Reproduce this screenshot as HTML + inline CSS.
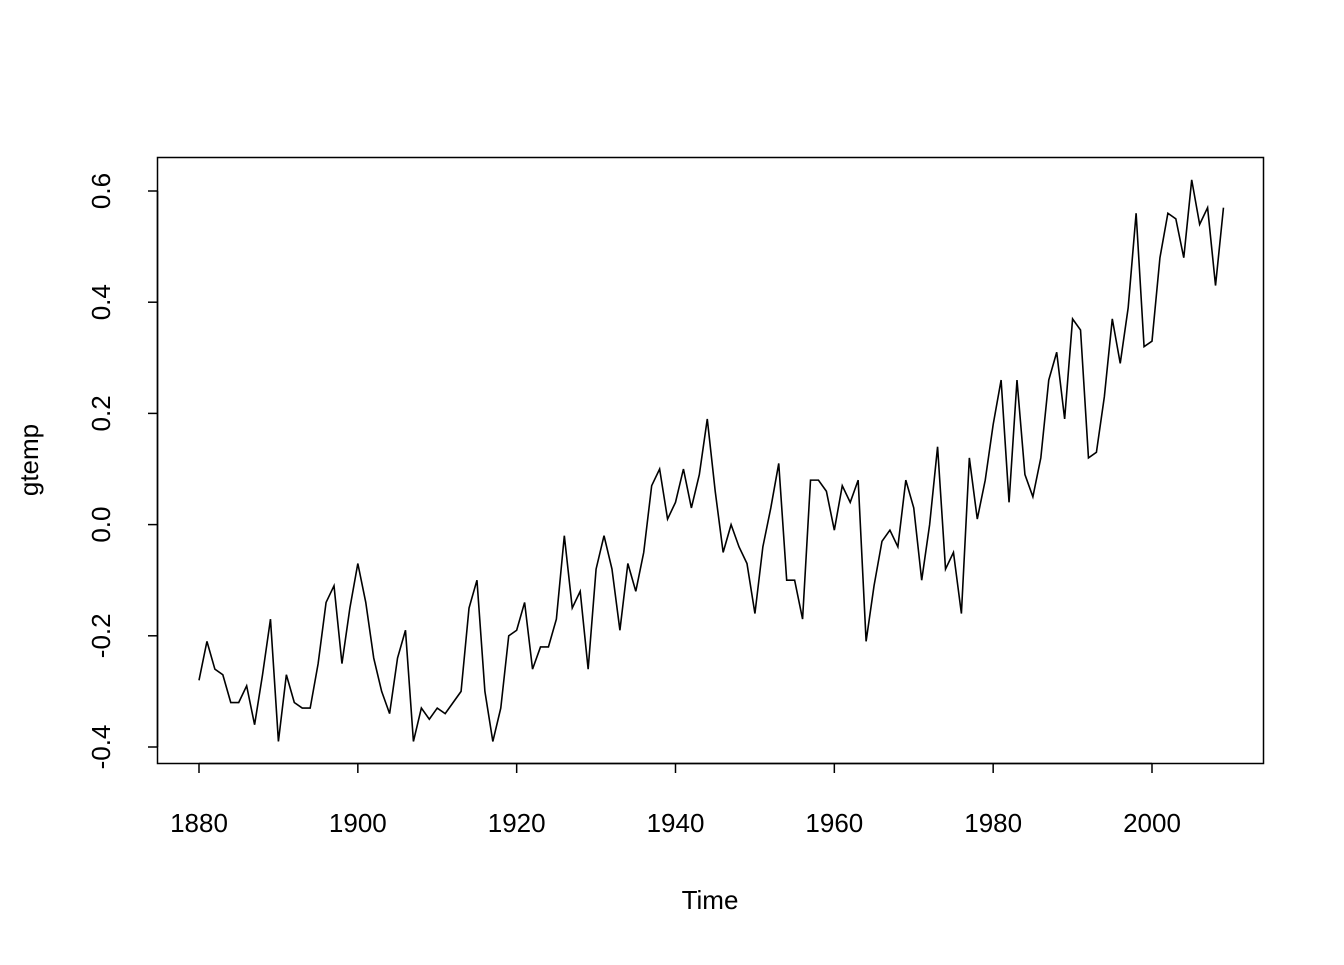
<!DOCTYPE html>
<html><head><meta charset="utf-8"><style>
html,body{margin:0;padding:0;background:#fff}
svg text{font-family:"Liberation Sans",Arial,sans-serif;font-size:26px;fill:#000}
</style></head><body>
<svg id="chart" width="1344" height="960" xmlns="http://www.w3.org/2000/svg">
<rect x="157.5" y="157.5" width="1106" height="606" fill="none" stroke="#000" stroke-width="1.5"/>
<g id="xaxis"></g>
<g id="yaxis"></g>
<path id="series" fill="none" stroke="#000" stroke-width="1.6"/>
<text x="710" y="909" text-anchor="middle">Time</text>
<text transform="translate(38,460) rotate(-90)" text-anchor="middle">gtemp</text>
</svg>
<script>
const startYear = 1880;
const values = [-0.28,-0.21,-0.26,-0.27,-0.32,-0.32,-0.29,-0.36,-0.27,-0.17,-0.39,-0.27,-0.32,-0.33,-0.33,-0.25,-0.14,-0.11,-0.25,-0.15,-0.07,-0.14,-0.24,-0.30,-0.34,-0.24,-0.19,-0.39,-0.33,-0.35,-0.33,-0.34,-0.32,-0.30,-0.15,-0.10,-0.30,-0.39,-0.33,-0.20,-0.19,-0.14,-0.26,-0.22,-0.22,-0.17,-0.02,-0.15,-0.12,-0.26,-0.08,-0.02,-0.08,-0.19,-0.07,-0.12,-0.05,0.07,0.10,0.01,0.04,0.10,0.03,0.09,0.19,0.06,-0.05,0.00,-0.04,-0.07,-0.16,-0.04,0.03,0.11,-0.10,-0.10,-0.17,0.08,0.08,0.06,-0.01,0.07,0.04,0.08,-0.21,-0.11,-0.03,-0.01,-0.04,0.08,0.03,-0.10,0.00,0.14,-0.08,-0.05,-0.16,0.12,0.01,0.08,0.18,0.26,0.04,0.26,0.09,0.05,0.12,0.26,0.31,0.19,0.37,0.35,0.12,0.13,0.23,0.37,0.29,0.39,0.56,0.32,0.33,0.48,0.56,0.55,0.48,0.62,0.54,0.57,0.43,0.57];
const xTicks = [1880,1900,1920,1940,1960,1980,2000];
const yTicks = [-0.4,-0.2,0.0,0.2,0.4,0.6];
const yTickLabels = ["-0.4","-0.2","0.0","0.2","0.4","0.6"];

const NS = "http://www.w3.org/2000/svg";
function xScale(yr){ return 199 + (yr-1880)*(1152-199)/120; }
function yScale(v){ return 747 - (v+0.4)*(747-191)/1.0; }

let d = "";
values.forEach((v,i)=>{ d += (i?"L":"M") + xScale(startYear+i).toFixed(2) + "," + yScale(v).toFixed(2); });
document.getElementById("series").setAttribute("d", d);

const xa = document.getElementById("xaxis");
const xl = document.createElementNS(NS,"line");
xl.setAttribute("x1",xScale(xTicks[0])); xl.setAttribute("x2",xScale(xTicks[xTicks.length-1]));
xl.setAttribute("y1",763.5); xl.setAttribute("y2",763.5); xl.setAttribute("stroke","#000"); xl.setAttribute("stroke-width","1.5");


xa.appendChild(xl);
xTicks.forEach(t=>{
  const l = document.createElementNS(NS,"line");
  l.setAttribute("x1",xScale(t)); l.setAttribute("x2",xScale(t)); l.setAttribute("y1",763.5); l.setAttribute("y2",773);
  l.setAttribute("stroke","#000"); l.setAttribute("stroke-width","1.5");
  
  
  xa.appendChild(l);
  const tx = document.createElementNS(NS,"text");
  tx.setAttribute("x",xScale(t)); tx.setAttribute("y",832); tx.setAttribute("text-anchor","middle");
  tx.textContent = String(t);
  
  
  xa.appendChild(tx);
});
const ya = document.getElementById("yaxis");
const yl = document.createElementNS(NS,"line");
yl.setAttribute("x1",157.5); yl.setAttribute("x2",157.5);
yl.setAttribute("y1",yScale(yTicks[0])); yl.setAttribute("y2",yScale(yTicks[yTicks.length-1]));
yl.setAttribute("stroke","#000"); yl.setAttribute("stroke-width","1.5");


ya.appendChild(yl);
yTicks.forEach((t,i)=>{
  const l = document.createElementNS(NS,"line");
  l.setAttribute("x1",148); l.setAttribute("x2",157.5); l.setAttribute("y1",yScale(t)); l.setAttribute("y2",yScale(t));
  l.setAttribute("stroke","#000"); l.setAttribute("stroke-width","1.5");
  
  
  ya.appendChild(l);
  const tx = document.createElementNS(NS,"text");
  tx.setAttribute("transform","translate(110,"+yScale(t)+") rotate(-90)");
  tx.setAttribute("text-anchor","middle");
  tx.textContent = yTickLabels[i];
  
  
  ya.appendChild(tx);
});
</script>
</body></html>
